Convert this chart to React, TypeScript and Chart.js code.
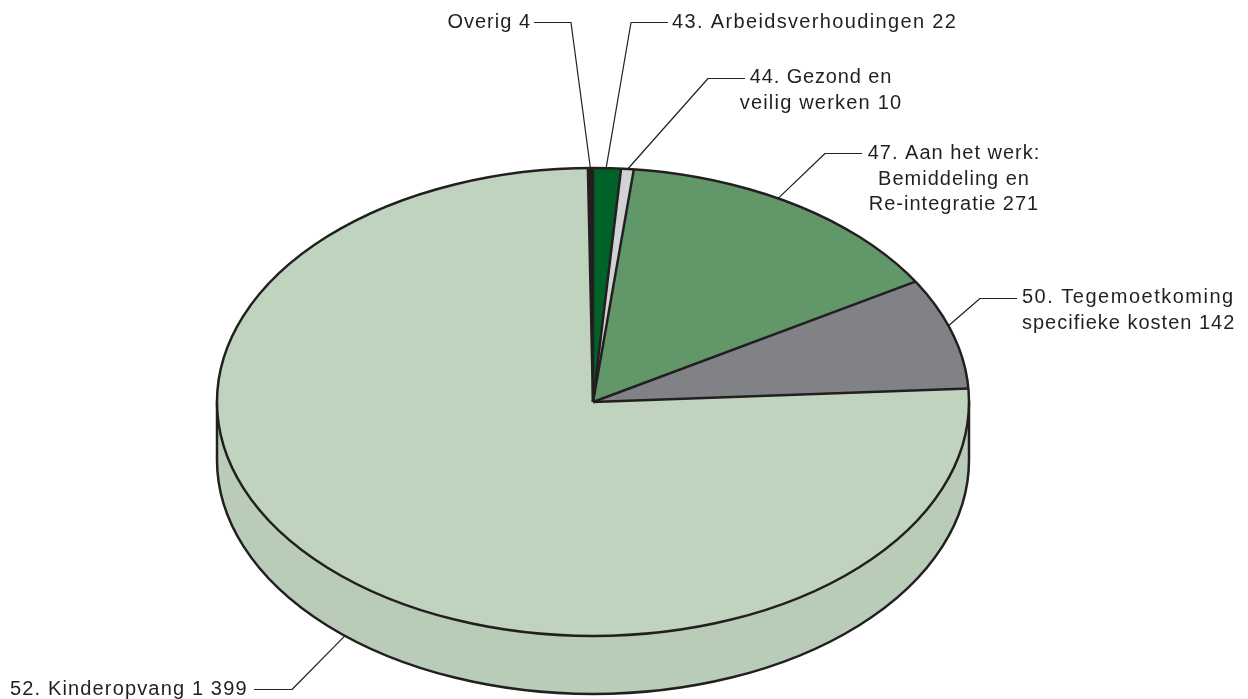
import React, { useEffect, useRef } from "react";
import { Chart, registerables } from "chart.js";

Chart.register(...registerables);

const categories = ["Overig", "43. Arbeidsverhoudingen", "44. Gezond en veilig werken", "47. Aan het werk: Bemiddeling en Re-integratie", "50. Tegemoetkoming specifieke kosten", "52. Kinderopvang"];
const values = [4, 22, 10, 271, 142, 1399];
const sliceColors = ["#231F20", "#006129", "#D0D2D3", "#629769", "#808285", "#BFD3BF"];

const labelLines = [
  ["Overig 4"],
  ["43. Arbeidsverhoudingen 22"],
  ["44. Gezond en", "veilig werken 10"],
  ["47. Aan het werk:", "Bemiddeling en", "Re-integratie 271"],
  ["50. Tegemoetkoming", "specifieke kosten 142"],
  ["52. Kinderopvang 1 399"],
];
const lineTracking = [[1], [1.35], [0.85, 1.2], [1, 1, 1], [1.5, 1], [1.15]];
// text placement per label: alignment, x, first baseline, elbow and the rim angle (degrees from top) the leader meets
const labelLayout = [
  { align: "right", x: 531, y: 28, from: 534, elbow: 571, elbowY: 22, rim: -0.4, wall: false },
  { align: "left", x: 672, y: 28, from: 668, elbow: 631, elbowY: 22, rim: 2.0, wall: false },
  { align: "center", x: 821, y: 83, from: 745, elbow: 708, elbowY: 78, rim: 5.3, wall: false },
  { align: "center", x: 954, y: 159, from: 862, elbow: 825, elbowY: 153, rim: 29.5, wall: false },
  { align: "left", x: 1022, y: 303, from: 1017, elbow: 980, elbowY: 298, rim: 71, wall: false },
  { align: "left", x: 10, y: 695, from: 254, elbow: 292, elbowY: 689, rim: 221.3, wall: true },
];

const RX = 376;
const RY = 234;
const DEPTH = 58;
const WALL = "#B8CCB8";
const INK = "#231F20";
const FONT = '20px "Liberation Sans"';
const LINE_HEIGHT = 25.5;

const ellipsePie = {
  id: "ellipsePie",
  beforeDatasetsDraw(chart: any) {
    const arc = chart.getDatasetMeta(0).data[0];
    const { ctx } = chart;
    const { x, y, outerRadius } = arc;
    // side wall
    ctx.save();
    ctx.beginPath();
    ctx.moveTo(x - RX, y);
    ctx.lineTo(x - RX, y + DEPTH);
    ctx.ellipse(x, y + DEPTH, RX, RY, 0, Math.PI, 0, true);
    ctx.lineTo(x + RX, y);
    ctx.closePath();
    ctx.fillStyle = WALL;
    ctx.fill();
    ctx.strokeStyle = INK;
    ctx.lineWidth = 2.5;
    ctx.stroke();
    ctx.restore();
    // squash the circular slices into the tilted ellipse
    ctx.save();
    ctx.translate(x, y);
    ctx.scale(RX / outerRadius, RY / outerRadius);
    ctx.translate(-x, -y);
  },
  afterDatasetsDraw(chart: any) {
    const { ctx } = chart;
    ctx.restore();
    const arcs = chart.getDatasetMeta(0).data;
    const { x, y } = arcs[0];
    ctx.save();
    ctx.strokeStyle = INK;
    ctx.lineWidth = 2.5;
    ctx.lineJoin = "round";
    for (const a of arcs) {
      ctx.beginPath();
      ctx.moveTo(x, y);
      ctx.lineTo(x + RX * Math.cos(a.startAngle), y + RY * Math.sin(a.startAngle));
      ctx.stroke();
    }
    ctx.beginPath();
    ctx.ellipse(x, y, RX, RY, 0, 0, Math.PI * 2);
    ctx.stroke();

    // labels and leaders
    ctx.font = FONT;
    ctx.fillStyle = INK;
    ctx.lineWidth = 1.2;
    ctx.textBaseline = "alphabetic";
    labelLayout.forEach((l, i) => {
      const t = (l.rim * Math.PI) / 180;
      const ax = x + RX * Math.sin(t);
      const ay = y - RY * Math.cos(t) + (l.wall ? DEPTH : 0);
      ctx.beginPath();
      ctx.moveTo(l.from, l.elbowY + 0.5);
      ctx.lineTo(l.elbow, l.elbowY + 0.5);
      ctx.lineTo(ax, ay);
      ctx.stroke();
      ctx.textAlign = l.align;
      labelLines[i].forEach((s, j) => {
        ctx.letterSpacing = `${lineTracking[i][j]}px`;
        ctx.fillText(s, l.x, l.y + j * LINE_HEIGHT);
      });
    });
    ctx.restore();
  },
};

export default function App() {
  const ref = useRef<HTMLCanvasElement>(null);
  useEffect(() => {
    const total = values.reduce((a, b) => a + b, 0);
    const chart = new Chart(ref.current!, {
      type: "pie",
      data: {
        labels: categories,
        datasets: [{ data: values, backgroundColor: sliceColors, borderWidth: 0, clip: false } as any],
      },
      options: {
        responsive: false,
        animation: false,
        rotation: -(values[0] / total) * 360,
        layout: { padding: { top: 105, right: 62, left: 0, bottom: 0 } },
        plugins: { legend: { display: false }, tooltip: { enabled: false } },
      },
      plugins: [ellipsePie],
    });
    return () => chart.destroy();
  }, []);
  return (
    <div style={{ position: "absolute", left: 0, top: 0, width: 1248, height: 699, background: "#fff" }}>
      <canvas ref={ref} width={1248} height={699} style={{ display: "block" }} />
    </div>
  );
}
